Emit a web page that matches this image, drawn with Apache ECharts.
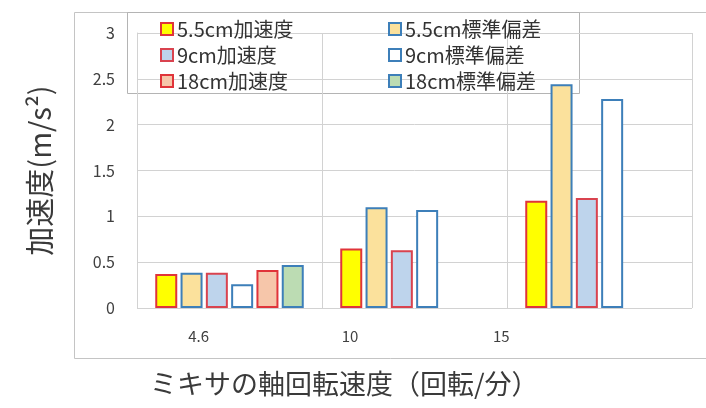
<!DOCTYPE html>
<html>
<head>
<meta charset="utf-8">
<script src="https://cdn.jsdelivr.net/npm/echarts@6/dist/echarts.min.js"></script>
<style>
  html, body { margin: 0; padding: 0; background: #fff; }
  #chart { width: 706px; height: 408px; }
</style>
</head>
<body>
<div id="chart"></div>
<script>
// rotation speed categories
const categories = ['4.6', '10', '15']
const yTicks = [0, 0.5, 1, 1.5, 2, 2.5, 3]

// values (m/s^2)
const acc55 = [0.37, 0.65, 1.17]
const std55 = [0.385, 1.1, 2.44]
const acc9 = [0.385, 0.63, 1.2]
const std9 = [0.26, 1.07, 2.28]
const acc18 = [0.415, null, null]
const std18 = [0.47, null, null]

const FONT = '"Noto Sans CJK JP", "Noto Sans", sans-serif'
const RED = '#e0343a'
const BLUE = '#3d7fb9'

function bar(name, data, fill, border) {
  return {
    name,
    type: 'bar',
    data,
    barWidth: 22,
    barGap: '15%',
    itemStyle: { color: fill, borderColor: border, borderWidth: 2 },
  }
}

const series = [
  bar('5.5cm加速度', acc55, '#ffff00', RED),
  bar('5.5cm標準偏差', std55, '#fbe19c', BLUE),
  bar('9cm加速度', acc9, '#bed4ec', '#d9434f'),
  bar('9cm標準偏差', std9, '#ffffff', BLUE),
  bar('18cm加速度', acc18, '#f6c6aa', RED),
  bar('18cm標準偏差', std18, '#bcdcb3', BLUE),
]

const legendCommon = {
  orient: 'vertical',
  top: 14,
  itemWidth: 12,
  itemHeight: 12,
  itemGap: 6,
  icon: 'rect',
  textStyle: { fontFamily: FONT, fontSize: 20, color: '#333', padding: [0, 0, 0, -1] },
}

const chart = echarts.init(document.getElementById('chart'), null, { renderer: 'canvas' })
chart.setOption({
  animation: false,
  backgroundColor: '#fff',
  legend: [
    Object.assign({}, legendCommon, { left: 155, data: ['5.5cm加速度', '9cm加速度', '18cm加速度'] }),
    Object.assign({}, legendCommon, { left: 383, data: ['5.5cm標準偏差', '9cm標準偏差', '18cm標準偏差'] }),
  ],
  grid: [
    { left: 137, top: 33, right: 14, bottom: 100 },
    // only used to place the category labels where the original has them
    { left: 123, top: 33, width: 454, bottom: 100 },
  ],
  xAxis: [
    {
      type: 'category',
      gridIndex: 0,
      data: categories,
      axisLine: { show: false },
      axisTick: { show: false },
      axisLabel: { show: false },
      splitLine: { show: true, lineStyle: { color: '#d2d2d2', width: 1 } },
    },
    {
      type: 'category',
      gridIndex: 1,
      data: categories,
      axisLine: { show: false },
      axisTick: { show: false },
      splitLine: { show: false },
      axisLabel: { fontFamily: FONT, fontSize: 15, color: '#404040', margin: 21 },
    },
  ],
  yAxis: [
    {
      type: 'value',
      gridIndex: 0,
      min: yTicks[0],
      max: yTicks[yTicks.length - 1],
      interval: 0.5,
      axisLine: { show: true, lineStyle: { color: '#d2d2d2' } },
      axisTick: { show: false },
      splitLine: { lineStyle: { color: '#d2d2d2' } },
      axisLabel: { fontFamily: FONT, fontSize: 16, color: '#404040', margin: 22 },
      name: '加速度(m/s²)',
      nameLocation: 'middle',
      nameRotate: 90,
      nameGap: 83,
      nameTextStyle: { fontFamily: FONT, fontSize: 29, color: '#3a3a3a' },
    },
    { type: 'value', gridIndex: 1, show: false, min: 0, max: 3 },
  ],
  series,
  graphic: [
    // chart area border
    {
      type: 'rect',
      shape: { x: 74.5, y: 12.5, width: 660, height: 346 },
      style: { fill: 'none', stroke: '#c4c4c4', lineWidth: 1 },
      silent: true,
    },
    // legend box
    {
      type: 'rect',
      shape: { x: 127.5, y: 12.5, width: 452, height: 81 },
      style: { fill: 'none', stroke: '#b4b4b4', lineWidth: 1 },
      silent: true,
    },
    {
      type: 'text',
      left: 150,
      top: 370,
      style: {
        text: 'ミキサの軸回転速度（回転/分）',
        font: '27px ' + FONT,
        fill: '#3a3a3a',
      },
      silent: true,
    },
  ],
})
</script>
</body>
</html>
